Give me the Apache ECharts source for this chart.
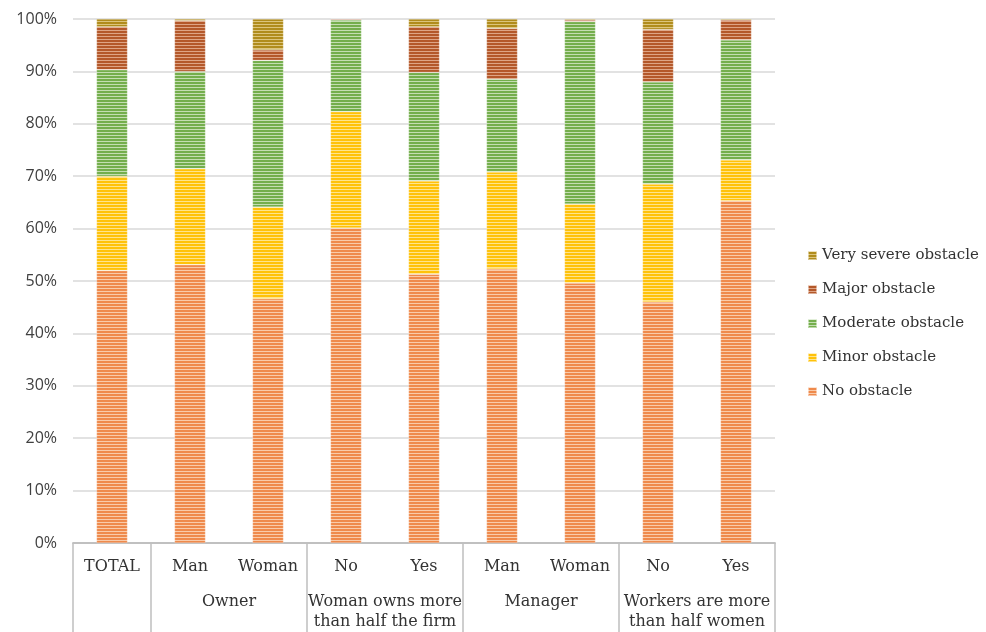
<!DOCTYPE html>
<html>
<head>
<meta charset="utf-8">
<script src="https://cdn.jsdelivr.net/npm/echarts@6/dist/echarts.min.js"></script>
<style>
  html, body { margin: 0; padding: 0; background: #fff; }
  #chart { width: 986px; height: 632px; }
</style>
</head>
<body>
<div id="chart"></div>
<script>
// Categories along the bottom axis and the groups they belong to
const categories = ['TOTAL', 'Man', 'Woman', 'No', 'Yes', 'Man', 'Woman', 'No', 'Yes'];
const groupNames = ['', 'Owner', 'Woman owns more\nthan half the firm', 'Manager', 'Workers are more\nthan half women'];
const groupCenters = [0.5, 2, 4, 6, 8];
const groupEdges = [0, 1, 3, 5, 7, 9];

// Share of firms (%) per answer
const noObstacle       = [52.0, 53.1, 46.6, 60.1, 51.3, 52.3, 49.6, 46.0, 65.3];
const minorObstacle    = [18.0, 18.3, 17.5, 22.2, 17.8, 18.5, 15.1, 22.5, 7.8];
const moderateObstacle = [20.3, 18.6, 28.0, 17.5, 20.7, 17.7, 34.8, 19.5, 22.9];
const majorObstacle    = [8.2, 9.7, 2.0, 0.2, 8.7, 9.7, 0.3, 10.0, 3.8];
const verySevere       = [1.5, 0.3, 5.9, 0.0, 1.5, 1.8, 0.2, 2.0, 0.2];

const yTicks = [0, 10, 20, 30, 40, 50, 60, 70, 80, 90, 100];

// Horizontal stripe fill: two rows of the base colour, one lighter row
function stripes(dark, light) {
  const c = document.createElement('canvas');
  c.width = 4; c.height = 3;
  const ctx = c.getContext('2d');
  ctx.fillStyle = light; ctx.fillRect(0, 0, 4, 3);
  ctx.fillStyle = dark; ctx.fillRect(0, 1, 4, 2);
  return { image: c, repeat: 'repeat' };
}

const serif = 'DejaVu Serif';
const textColor = '#333333';
const chart = echarts.init(document.getElementById('chart'));

function barSeries(name, data, dark, light) {
  return {
    name: name,
    type: 'bar',
    stack: 'total',
    data: data,
    barWidth: 31,
    xAxisIndex: 0,
    itemStyle: { color: stripes(dark, light), borderColor: 'rgba(255,255,255,0.5)', borderWidth: 0.5 },
    emphasis: { disabled: true }
  };
}

chart.setOption({
  animation: false,
  backgroundColor: '#ffffff',
  grid: { left: 73, right: 211, top: 19, bottom: 89, containLabel: false },
  legend: {
    orient: 'vertical',
    left: 802,
    top: 243,
    itemWidth: 9,
    itemHeight: 9,
    itemGap: 19,
    icon: 'rect',
    data: ['Very severe obstacle', 'Major obstacle', 'Moderate obstacle', 'Minor obstacle', 'No obstacle'],
    textStyle: { fontFamily: serif, fontSize: 15, color: textColor }
  },
  xAxis: [
    {
      type: 'category',
      data: categories,
      position: 'bottom',
      axisLine: { show: true, lineStyle: { color: '#bfbfbf', width: 1.5 } },
      axisTick: { show: false },
      axisLabel: { fontFamily: serif, fontSize: 16, color: textColor, margin: 16, interval: 0 }
    },
    {
      type: 'value',
      min: 0,
      max: 9,
      position: 'bottom',
      axisLine: { show: true, lineStyle: { color: '#bfbfbf', width: 1.5 } },
      splitLine: { show: false },
      axisTick: {
        show: true,
        customValues: groupEdges,
        length: 95,
        lineStyle: { color: '#bfbfbf', width: 1.5 }
      },
      axisLabel: {
        show: true,
        customValues: groupCenters,
        formatter: function (v) {
          const i = groupCenters.indexOf(v);
          return i >= 0 ? groupNames[i] : '';
        },
        fontFamily: serif,
        fontSize: 16,
        color: textColor,
        margin: 49,
        lineHeight: 20,
        verticalAlign: 'top'
      }
    }
  ],
  yAxis: {
    type: 'value',
    min: 0,
    max: 100,
    interval: 10,
    axisLine: { show: false },
    axisTick: { show: false },
    splitLine: { lineStyle: { color: '#d9d9d9', width: 1.5 } },
    axisLabel: {
      formatter: function (v) { return yTicks.indexOf(v) >= 0 ? v + '%' : ''; },
      fontFamily: 'Open Sans',
      fontSize: 16,
      color: '#404040',
      margin: 16
    }
  },
  series: [
    barSeries('No obstacle', noObstacle, '#ef8a4c', '#f9cbaa'),
    barSeries('Minor obstacle', minorObstacle, '#ffc20a', '#ffe48c'),
    barSeries('Moderate obstacle', moderateObstacle, '#74ae4c', '#c4deb2'),
    barSeries('Major obstacle', majorObstacle, '#b4582a', '#dea485'),
    barSeries('Very severe obstacle', verySevere, '#b08c1c', '#dcc47c')
  ]
});
</script>
</body>
</html>
